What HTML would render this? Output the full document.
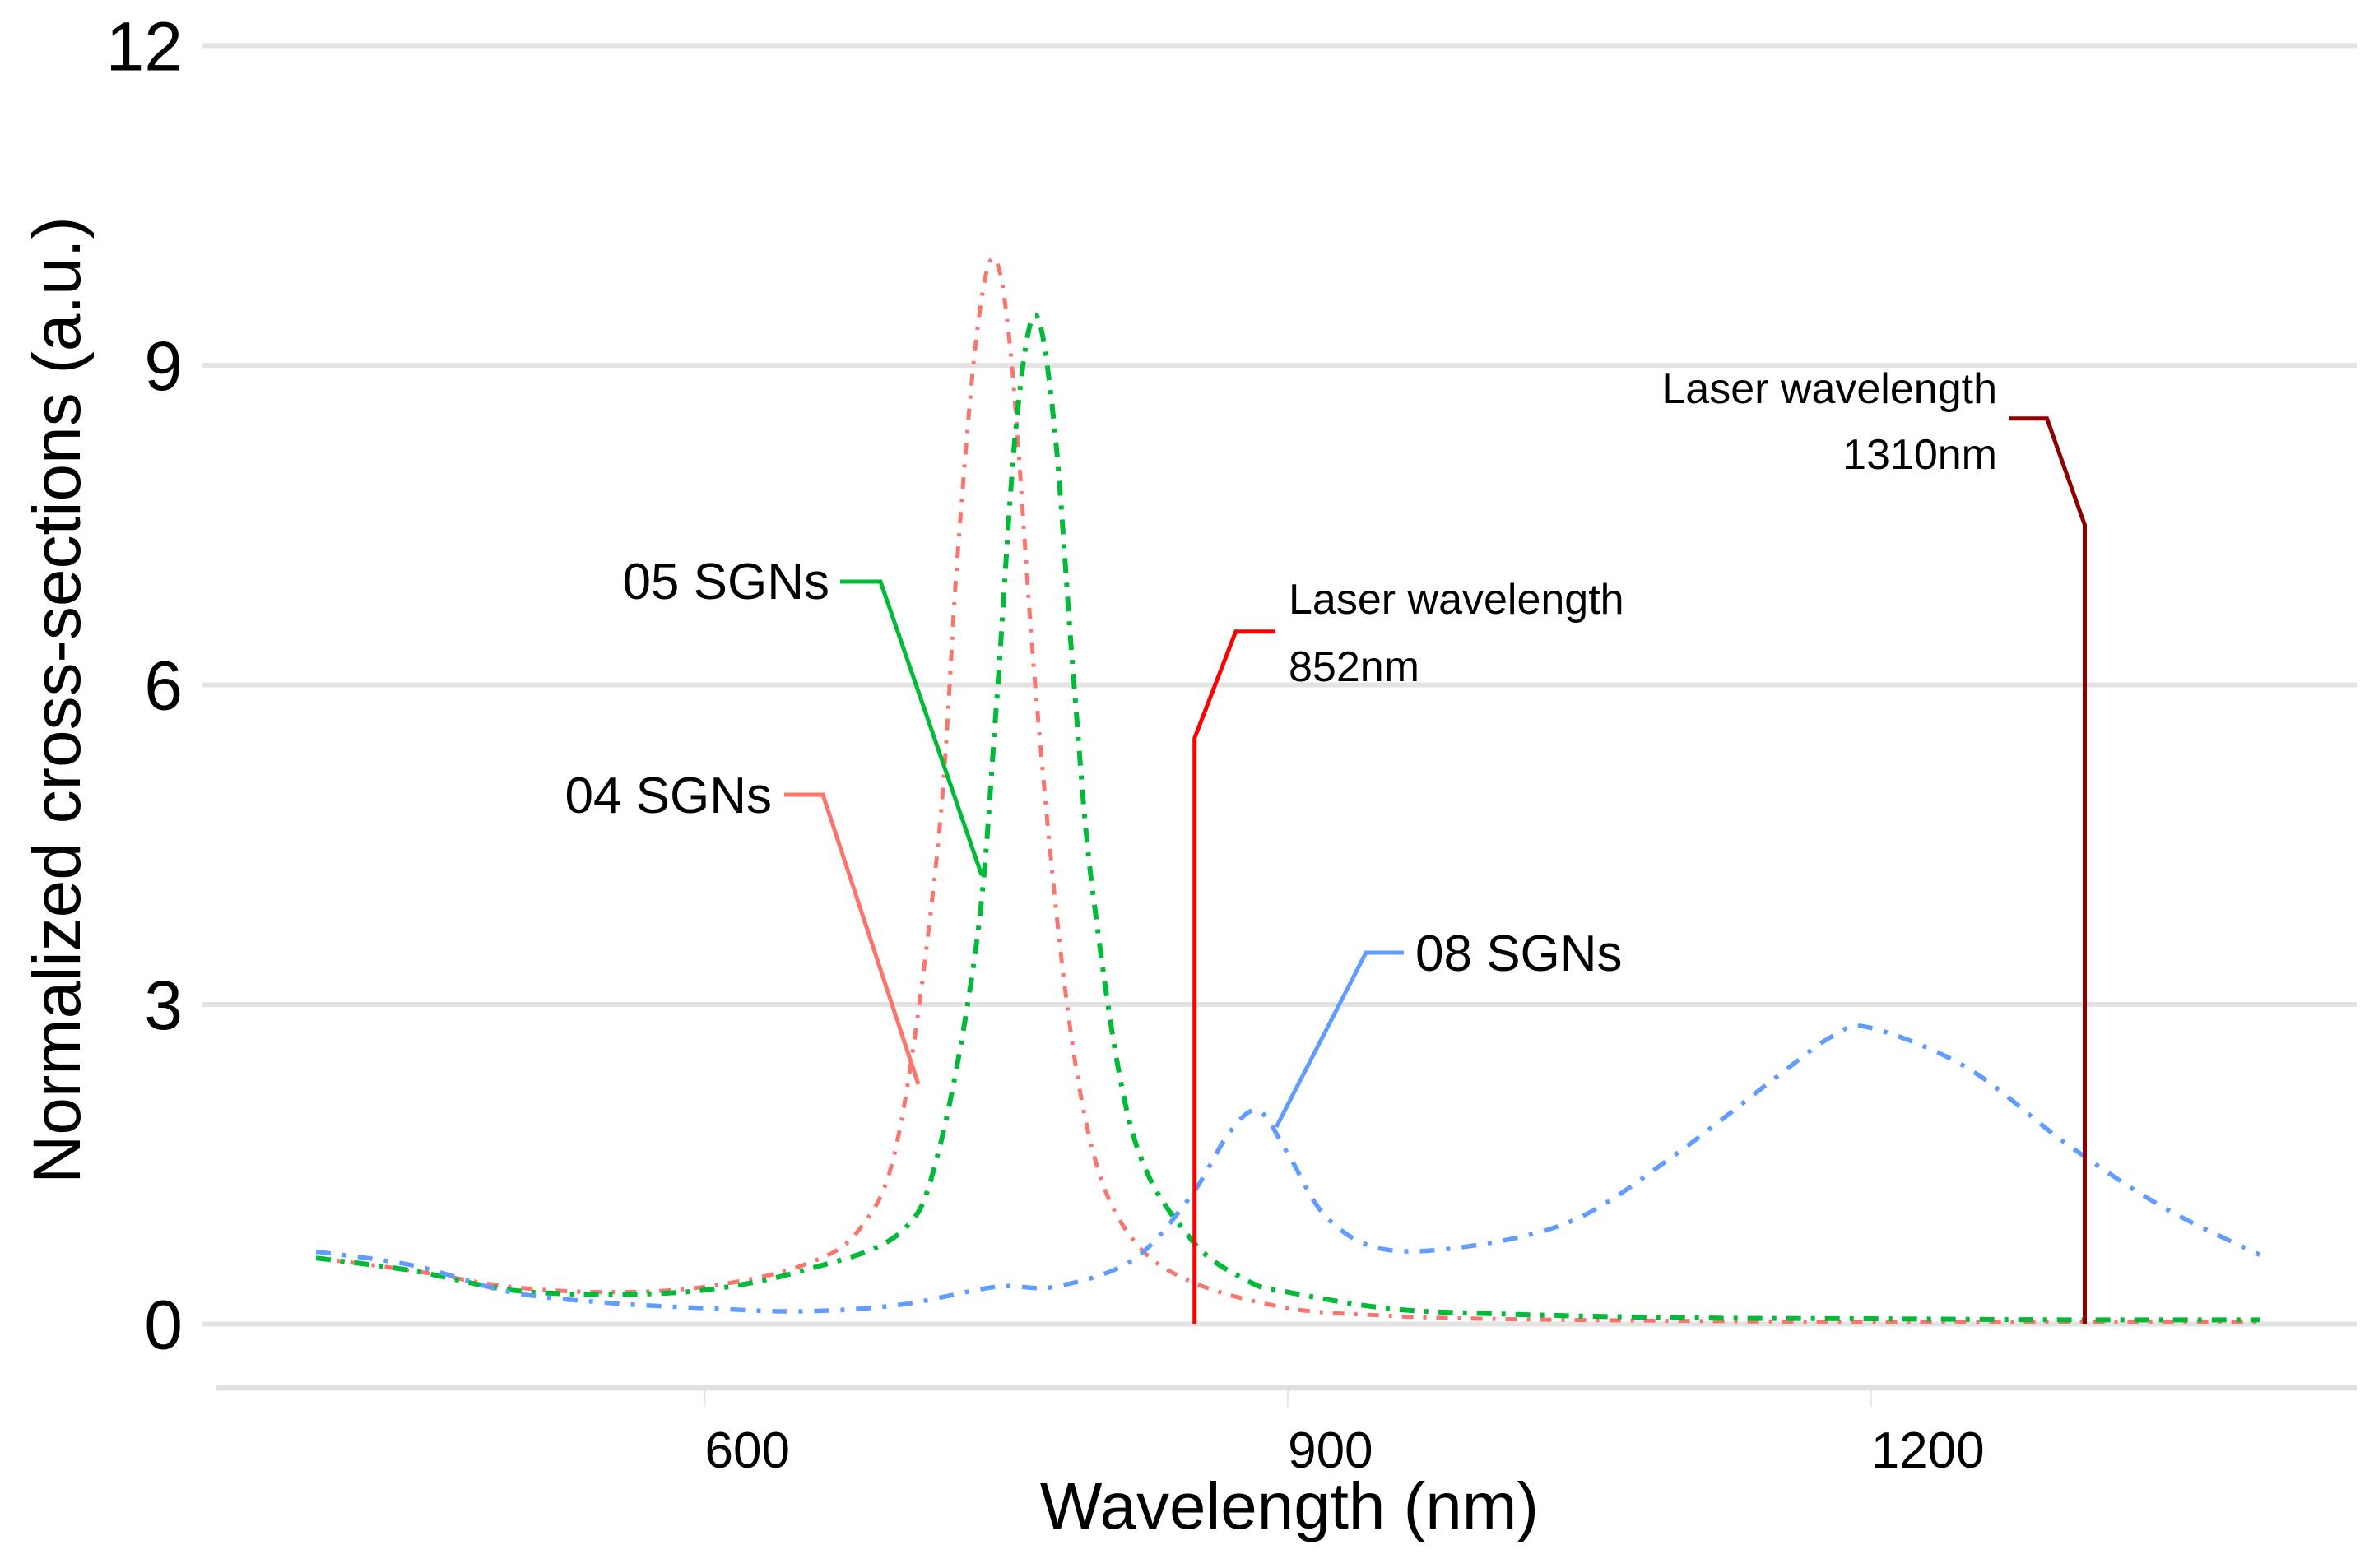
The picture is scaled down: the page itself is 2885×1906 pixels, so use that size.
<!DOCTYPE html>
<html><head><meta charset="utf-8"><style>
html,body{margin:0;padding:0;background:#fff;}
svg{display:block;}
text{font-family:"Liberation Sans",sans-serif;}
</style></head><body>
<svg id="chart" width="2885" height="1906" viewBox="0 0 2885 1906" xmlns="http://www.w3.org/2000/svg">
<g id="grid"></g>
<g id="axes"></g>
<g id="series"></g>
<g id="ann"></g>
<text x="0" y="0" transform="translate(97,851) rotate(-90)" text-anchor="middle" font-size="82" fill="#000">Normalized cross-sections (a.u.)</text>
<text x="1567" y="1858" text-anchor="middle" font-size="80" fill="#000">Wavelength (nm)</text>
</svg>
<script>
const yTicks=[0,3,6,9,12];
const xTicks=[600,900,1200];
const wl04=[400,450,500,550,600,650,680,700,720,730,740,749,758,770,785,800,820,850,900,950,1000,1100,1200,1300,1400];
const v04=[0.62,0.5,0.35,0.3,0.35,0.55,0.9,1.8,4.5,7.2,9.3,10.0,9.0,6.0,3.2,1.6,0.8,0.4,0.15,0.08,0.05,0.03,0.02,0.02,0.02];
const wl05=[400,450,500,550,600,650,700,720,740,750,760,770,780,790,800,820,850,880,900,950,1000,1100,1200,1300,1400];
const v05=[0.62,0.5,0.32,0.28,0.32,0.5,0.85,1.6,3.6,5.8,8.4,9.47,8.4,6.0,4.0,1.8,0.8,0.4,0.3,0.15,0.1,0.06,0.05,0.04,0.04];
const wl08=[400,450,500,550,600,650,700,750,780,820,850,870,885,900,920,950,1000,1050,1100,1150,1180,1200,1250,1300,1350,1400];
const v08=[0.68,0.55,0.3,0.2,0.15,0.12,0.18,0.35,0.35,0.6,1.2,1.8,2.0,1.6,1.0,0.7,0.75,1.0,1.6,2.3,2.7,2.78,2.4,1.7,1.1,0.65];
const laserWl=[852,1310];
const laserTop=[5.5,7.5];

const NS="http://www.w3.org/2000/svg";
const X=nm=>856.5+(nm-600)*2.362;
const Y=v=>1609.5-v*129.5;
function el(tag,attrs,parent){const e=document.createElementNS(NS,tag);for(const k in attrs)e.setAttribute(k,attrs[k]);parent.appendChild(e);return e;}
const grid=document.getElementById('grid'),axes=document.getElementById('axes'),series=document.getElementById('series'),ann=document.getElementById('ann');

yTicks.forEach(t=>{
  const l=el('line',{x1:246,x2:2864,y1:Y(t),y2:Y(t),stroke:'#e3e3e3','stroke-width':6},grid);
  
  
  const tx=el('text',{x:222,y:Y(t)+30,'text-anchor':'end','font-size':84,fill:'#000'},axes);
  tx.textContent=t;
  
  
});
const ax=el('line',{x1:263,x2:2864,y1:1687,y2:1687,stroke:'#e0e0e0','stroke-width':7},axes);


xTicks.forEach(t=>{
  const tk=el('line',{x1:X(t),x2:X(t),y1:1690,y2:1710,stroke:'#e6e6e6','stroke-width':2},axes);
  
  
  const tx=el('text',{x:X(t),y:1784,'text-anchor':'start','font-size':62,fill:'#000'},axes);
  tx.textContent=t;
  
  
});

function smoothPath(xs,vs){
  const p=xs.map((x,i)=>[X(x),Y(vs[i])]);
  let d='M'+p[0][0]+','+p[0][1];
  for(let i=0;i<p.length-1;i++){
    const p0=p[i-1]||p[i],p1=p[i],p2=p[i+1],p3=p[i+2]||p2;
    const c1=[p1[0]+(p2[0]-p0[0])/6,p1[1]+(p2[1]-p0[1])/6];
    const c2=[p2[0]-(p3[0]-p1[0])/6,p2[1]-(p3[1]-p1[1])/6];
    d+=' C'+c1[0]+','+c1[1]+' '+c2[0]+','+c2[1]+' '+p2[0]+','+p2[1];
  }
  return d;
}
const s04=el('path',{d:smoothPath(wl04,v04),fill:'none',stroke:'#F8766D','stroke-width':5,'stroke-dasharray':'14,12,4,12'},series);


const s05=el('path',{d:smoothPath(wl05,v05),fill:'none',stroke:'#00BA38','stroke-width':6,'stroke-dasharray':'18,12,5,12'},series);


const s08=el('path',{d:smoothPath(wl08,v08),fill:'none',stroke:'#619CFF','stroke-width':5.5,'stroke-dasharray':'18,14,5,14'},series);



// laser lines
const l1=el('polyline',{points:[[X(laserWl[0]),Y(0)],[X(laserWl[0]),Y(laserTop[0])],[X(laserWl[0])+50,Y(laserTop[0]+1)],[X(laserWl[0])+98,Y(laserTop[0]+1)]].join(' '),fill:'none',stroke:'#FF0000','stroke-width':5},ann);


const l2=el('polyline',{points:[[X(laserWl[1]),Y(0)],[X(laserWl[1]),Y(laserTop[1])],[X(laserWl[1])-46,Y(laserTop[1]+1)],[X(laserWl[1])-92,Y(laserTop[1]+1)]].join(' '),fill:'none',stroke:'#8B0000','stroke-width':5},ann);



function label(txt,x,y,anchor,size,name){
  const t=el('text',{x:x,y:y,'text-anchor':anchor,'font-size':size,fill:'#000'},ann);
  t.textContent=txt;
  
  
}
label('Laser wavelength',1566,746,'start',52,'laser-852-label');
label('852nm',1566,828,'start',52,'laser-852-value');
label('Laser wavelength',2427,490,'end',52,'laser-1310-label');
label('1310nm',2427,570,'end',52,'laser-1310-value');

function leader(pts,color,name){
  const p=el('polyline',{points:pts.map(q=>q.join(',')).join(' '),fill:'none',stroke:color,'stroke-width':5},ann);
  
  
}
leader([[1021,707],[1070,707],[1193,1064]],'#00BA38','leader-05-sgns');
label('05 SGNs',1008,728,'end',62,'label-05-sgns');
leader([[953,966],[1000,966],[1116,1318]],'#F8766D','leader-04-sgns');
label('04 SGNs',938,988,'end',62,'label-04-sgns');
leader([[1551,1370],[1660,1158],[1706,1158]],'#619CFF','leader-08-sgns');
label('08 SGNs',1720,1180,'start',62,'label-08-sgns');
</script>
</body></html>
